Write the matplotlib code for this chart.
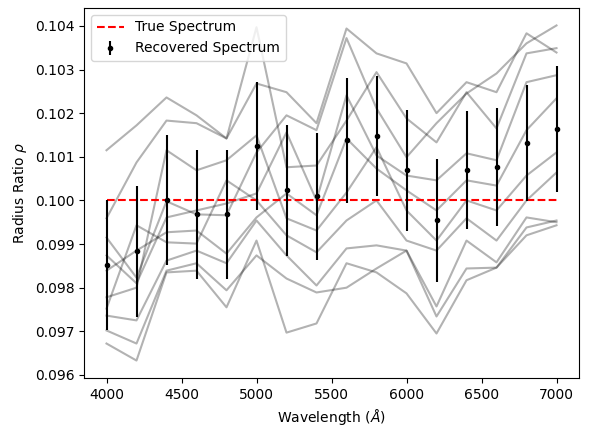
import numpy as np
import matplotlib
matplotlib.use("Agg")
import matplotlib.pyplot as plt

# wavelength grid (Angstrom)
wavelengths = [4000, 4200, 4400, 4600, 4800, 5000, 5200, 5400,
               5600, 5800, 6000, 6200, 6400, 6600, 6800, 7000]

true_ratio = 0.1

# individual retrievals (gray lines)
trial_1 = [0.10115, 0.10172, 0.10236, 0.10195, 0.10142, 0.10397, 0.10076, 0.10080,
           0.10183, 0.10294, 0.10188, 0.10133, 0.10248, 0.10165, 0.10337, 0.10349]
trial_2 = [0.09959, 0.10087, 0.10183, 0.10177, 0.10142, 0.10268, 0.10248, 0.10177,
           0.10394, 0.10337, 0.10314, 0.10200, 0.10271, 0.10248, 0.10383, 0.10339]
trial_3 = [0.09915, 0.09823, 0.09998, 0.09968, 0.09966, 0.10110, 0.10195, 0.10161,
           0.10372, 0.10211, 0.10099, 0.10177, 0.10245, 0.10291, 0.10360, 0.10401]
trial_4 = [0.09874, 0.09810, 0.09961, 0.09977, 0.09993, 0.10016, 0.10156, 0.10000,
           0.10241, 0.10103, 0.10057, 0.10046, 0.10108, 0.10092, 0.10271, 0.10287]
trial_5 = [0.09839, 0.09885, 0.09927, 0.09931, 0.09878, 0.09961, 0.10016, 0.09966,
           0.10142, 0.10073, 0.10023, 0.09977, 0.10046, 0.10034, 0.10161, 0.10234]
trial_6 = [0.09778, 0.09800, 0.10115, 0.10069, 0.10092, 0.10149, 0.09959, 0.09931,
           0.10018, 0.10122, 0.09977, 0.09908, 0.10000, 0.09977, 0.10057, 0.10110]
trial_7 = [0.09752, 0.09943, 0.09904, 0.09901, 0.10046, 0.10000, 0.09920, 0.09881,
           0.09954, 0.10000, 0.09908, 0.09885, 0.09959, 0.09908, 0.10000, 0.10064]
trial_8 = [0.09736, 0.09725, 0.09862, 0.09885, 0.09856, 0.09954, 0.09874, 0.09805,
           0.09890, 0.09897, 0.09885, 0.09757, 0.09908, 0.09858, 0.09961, 0.09950]
trial_9 = [0.09702, 0.09672, 0.09839, 0.09856, 0.09794, 0.09874, 0.09821, 0.09789,
           0.09800, 0.09844, 0.09885, 0.09734, 0.09844, 0.09846, 0.09920, 0.09943]
trial_10 = [0.09672, 0.09633, 0.09835, 0.09839, 0.09755, 0.09908, 0.09697, 0.09718,
            0.09856, 0.09835, 0.09787, 0.09695, 0.09817, 0.09846, 0.09938, 0.09954]

# recovered spectrum with uncertainties
recovered = [0.09851, 0.09883, 0.10000, 0.09968, 0.09968, 0.10124, 0.10023, 0.10009,
             0.10138, 0.10147, 0.10069, 0.09954, 0.10069, 0.10076, 0.10131, 0.10163]
recovered_err = [0.00149, 0.00151, 0.00149, 0.00148, 0.00147, 0.00147, 0.00150, 0.00145,
                 0.00143, 0.00138, 0.00139, 0.00140, 0.00135, 0.00135, 0.00133, 0.00144]

trials = [trial_1, trial_2, trial_3, trial_4, trial_5,
          trial_6, trial_7, trial_8, trial_9, trial_10]

fig = plt.figure(figsize=(5.89, 4.38), dpi=100)
ax = fig.add_axes([84 / 589, 60 / 438, 495 / 589, 370 / 438])

for t in trials:
    ax.plot(wavelengths, t, color="k", alpha=0.3)

ax.plot(wavelengths, [true_ratio] * len(wavelengths), "r--", label="True Spectrum")
ax.errorbar(wavelengths, recovered, yerr=recovered_err, fmt=".", color="k",
            label="Recovered Spectrum")

ax.set_xlim(3850, 7150)
ax.set_ylim(0.09593, 0.10441)
ax.set_xlabel(r"Wavelength ($\AA$)")
ax.set_ylabel(r"Radius Ratio $\rho$")
ax.legend(loc="upper left")

fig.savefig("out.png", dpi=100)
